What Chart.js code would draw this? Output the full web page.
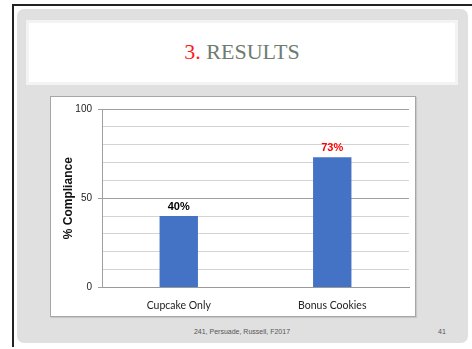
<!DOCTYPE html>
<html>
<head>
<meta charset="utf-8">
<script src="https://cdn.jsdelivr.net/npm/chart.js@4/dist/chart.umd.min.js"></script>
<style>
  html, body { margin: 0; padding: 0; background: #fff; }
  body { width: 472px; height: 349px; position: relative; overflow: hidden; font-family: "Liberation Sans", Arial, sans-serif; }
  #frame { position: absolute; left: 12px; top: 4px; width: 470px; height: 341px; border-left: 2px solid #222; border-top: 2px solid #222; }
  #panel { position: absolute; left: 17px; top: 9px; width: 451px; height: 334px; background: #e0e0e0; border-radius: 7px; }
  #titlebox { position: absolute; left: 26px; top: 20px; width: 432px; height: 65px; background: #fff; border: 3px solid #f3f3f3; box-sizing: border-box; }
  #title { position: absolute; left: 0; right: 0; top: 16px; text-align: center; font-family: "Liberation Serif", serif; font-size: 22px; color: #6e7d70; }
  #title span { color: #ff1a1a; }
  #chartbox { position: absolute; left: 50px; top: 96px; width: 364px; height: 219px; background: #fff; border: 1px solid #a6a6a6; box-shadow: 1px 1px 1px #c8c8c8; }
  #chartbox canvas { position: absolute; left: 0; top: 0; }
  #footer { position: absolute; left: 0; width: 484px; top: 328px; text-align: center; font-size: 7px; color: #555; }
  #pagenum { position: absolute; left: 438px; top: 328px; font-size: 7px; color: #555; }
</style>
</head>
<body>
<div id="frame"></div>
<div id="panel"></div>
<div id="titlebox"><div id="title"><span>3.</span> RESULTS</div></div>
<div id="chartbox"><canvas id="resultsChart" width="364" height="219"></canvas></div>
<div id="footer">241, Persuade, Russell, F2017</div>
<div id="pagenum">41</div>
<script>
// Données du graphique
const categories = ["Cupcake Only", "Bonus Cookies"];
const compliance = [40, 73];
const labelColors = ["#000000", "#ff0000"];
const shownTicks = [0, 50, 100];

// étiquettes au-dessus des barres
const barLabels = {
  id: "barLabels",
  afterDatasetsDraw(chart) {
    const ctx = chart.ctx;
    const meta = chart.getDatasetMeta(0);
    ctx.save();
    ctx.font = "bold 11px 'Liberation Sans', Arial, sans-serif";
    ctx.textAlign = "center";
    ctx.textBaseline = "bottom";
    meta.data.forEach((bar, i) => {
      ctx.fillStyle = labelColors[i];
      ctx.fillText(compliance[i] + "%", bar.x, bar.y - 4);
    });
    ctx.restore();
  },
};

try {
  const ctx = document.getElementById("resultsChart");
  new Chart(ctx, {
    type: "bar",
    data: {
      labels: categories,
      datasets: [
        {
          data: compliance,
          backgroundColor: "#4472c4",
          borderWidth: 0,
          categoryPercentage: 1,
          barPercentage: 0.25,
        },
      ],
    },
    options: {
      responsive: false,
      animation: false,
      layout: { padding: { top: 10, right: 6, left: 6, bottom: 0 } },
      plugins: { legend: { display: false }, tooltip: { enabled: false } },
      scales: {
        x: {
          grid: { display: false },
          border: { color: "#999" },
          ticks: { color: "#222", padding: 4, font: { family: "Lato, 'Open Sans', sans-serif", size: 10.5 } },
        },
        y: {
          min: 0,
          max: 100,
          afterFit(scale) { scale.width = 45; },
          ticks: {
            stepSize: 10,
            padding: 6,
            color: "#222",
            font: { family: "'Liberation Sans', Arial, sans-serif", size: 10 },
            callback: (v) => (shownTicks.includes(v) ? v : ""),
          },
          grid: {
            color: (c) => (shownTicks.includes(c.tick.value) ? "#a0a0a0" : "#d4d4d4"),
            tickColor: (c) => (shownTicks.includes(c.tick.value) ? "#a0a0a0" : "transparent"),
            tickLength: 4,
          },
          border: { color: "#a0a0a0" },
          title: {
            display: true,
            text: "% Compliance",
            color: "#111",
            font: { family: "'Liberation Sans', Arial, sans-serif", size: 12, weight: "bold" },
          },
        },
      },
    },
    plugins: [barLabels],
  });
} catch (error) {
  console.error("Erreur graphique:", error);
}
</script>
</body>
</html>
